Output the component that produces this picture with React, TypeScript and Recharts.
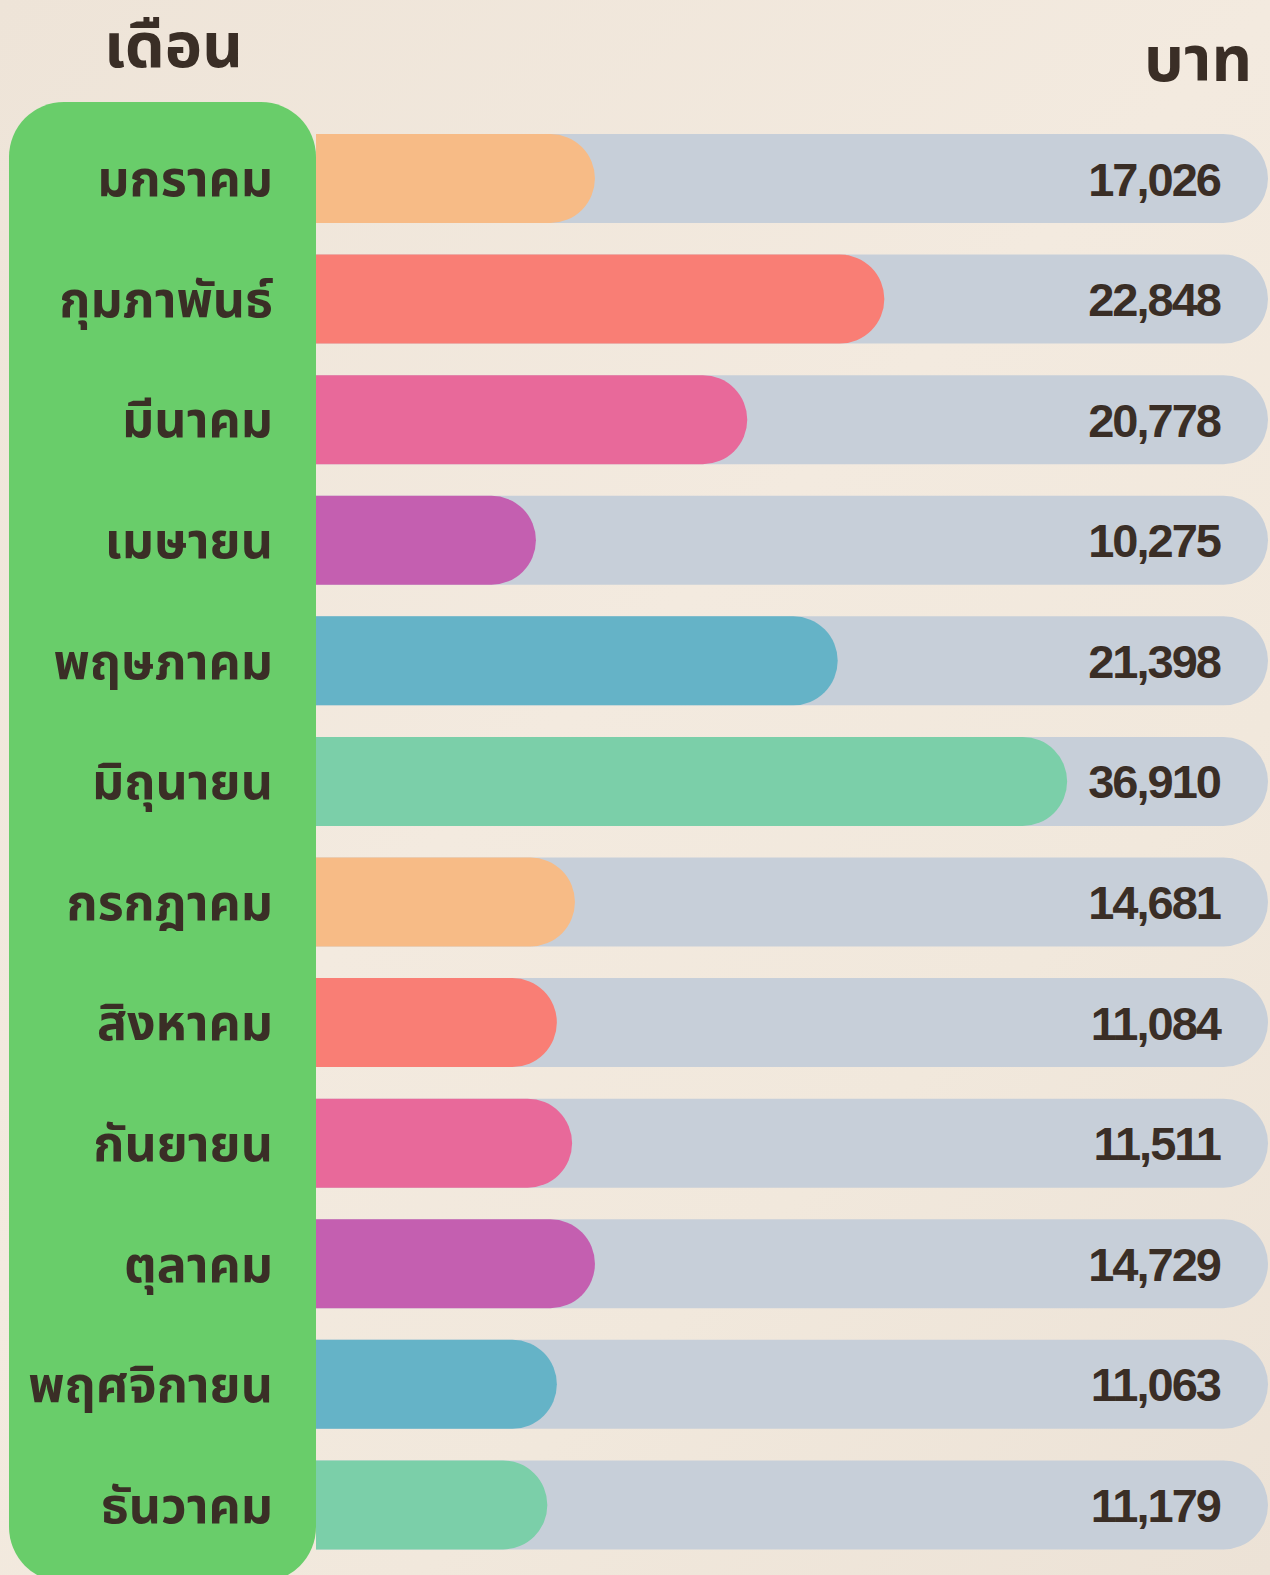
import React from "react";
import { Bar, BarChart, Cell, LabelList, XAxis, YAxis } from "recharts";

const months = [
  "มกราคม",
  "กุมภาพันธ์",
  "มีนาคม",
  "เมษายน",
  "พฤษภาคม",
  "มิถุนายน",
  "กรกฎาคม",
  "สิงหาคม",
  "กันยายน",
  "ตุลาคม",
  "พฤศจิกายน",
  "ธันวาคม",
];

// printed amounts (baht)
const amounts = [17026, 22848, 20778, 10275, 21398, 36910, 14681, 11084, 11511, 14729, 11063, 11179];

// bar length as drawn, in % of the grey track (the graphic is not to scale)
const barLengths = [29.3, 59.7, 45.3, 23.1, 54.8, 78.9, 27.2, 25.3, 26.9, 29.3, 25.3, 24.3];

const palette = ["#F7BB86", "#F97E75", "#E8699A", "#C45FB0", "#65B3C7", "#7BCFA9"];

const data = months.map((m, i) => ({ month: m, amount: amounts[i], length: barLengths[i] }));

const W = 1270;
const H = 1575;
const INK = "#3A2E26";
const THAI = "'Noto Sans Thai', 'Noto Sans Thai Looped', Leelawadee, Tahoma, 'DejaVu Sans', sans-serif";
const NUM = "'Liberation Sans', Arial, sans-serif";

const MonthTick = (props: any) => {
  const { y, payload } = props;
  return (
    <text
      x={273}
      y={y + 18}
      textAnchor="end"
      fill={INK}
      fontFamily={THAI}
      fontWeight={700}
      fontSize={50}
    >
      {payload.value}
    </text>
  );
};

const AmountLabel = (props: any) => {
  const { y, height, value } = props;
  return (
    <text
      x={1220}
      y={y + height / 2 + 17}
      textAnchor="end"
      fill={INK}
      fontFamily={NUM}
      fontWeight={700}
      fontSize={47}
      letterSpacing={-2}
    >
      {Number(value).toLocaleString("en-US")}
    </text>
  );
};

export default function App() {
  return (
    <div
      style={{
        position: "absolute",
        left: 0,
        top: 0,
        width: W,
        height: H,
        overflow: "hidden",
        background: "linear-gradient(135deg, #EEE4D8 0%, #F3EADF 45%, #F1E8DC 70%, #ECE2D6 100%)",
      }}
    >
      <div
        style={{
          position: "absolute",
          left: 9,
          top: 102,
          width: 307,
          height: 1480,
          background: "#69CD6A",
          borderRadius: 55,
        }}
      />
      <div
        style={{
          position: "absolute",
          left: 104,
          top: 8,
          fontFamily: THAI,
          fontWeight: 700,
          fontSize: 63,
          color: INK,
          lineHeight: "80px",
        }}
      >
        เดือน
      </div>
      <div
        style={{
          position: "absolute",
          right: 18,
          top: 22,
          fontFamily: THAI,
          fontWeight: 700,
          fontSize: 63,
          color: INK,
          lineHeight: "80px",
        }}
      >
        บาท
      </div>
      <div style={{ position: "absolute", left: 0, top: 0 }}>
        <BarChart
          width={W}
          height={H}
          data={data}
          layout="vertical"
          margin={{ top: 118, right: 2, bottom: 10, left: 0 }}
          barSize={89}
        >
          <XAxis type="number" domain={[0, 100]} hide />
          <YAxis
            type="category"
            dataKey="month"
            width={316}
            axisLine={false}
            tickLine={false}
            tick={<MonthTick />}
            interval={0}
          />
          <Bar
            dataKey="length"
            radius={[0, 45, 45, 0]}
            background={{ fill: "#C7CFD9", radius: [0, 45, 45, 0] } as any}
            isAnimationActive={false}
          >
            {data.map((d, i) => (
              <Cell key={d.month} fill={palette[i % palette.length]} />
            ))}
            <LabelList dataKey="amount" content={<AmountLabel />} />
          </Bar>
        </BarChart>
      </div>
    </div>
  );
}
